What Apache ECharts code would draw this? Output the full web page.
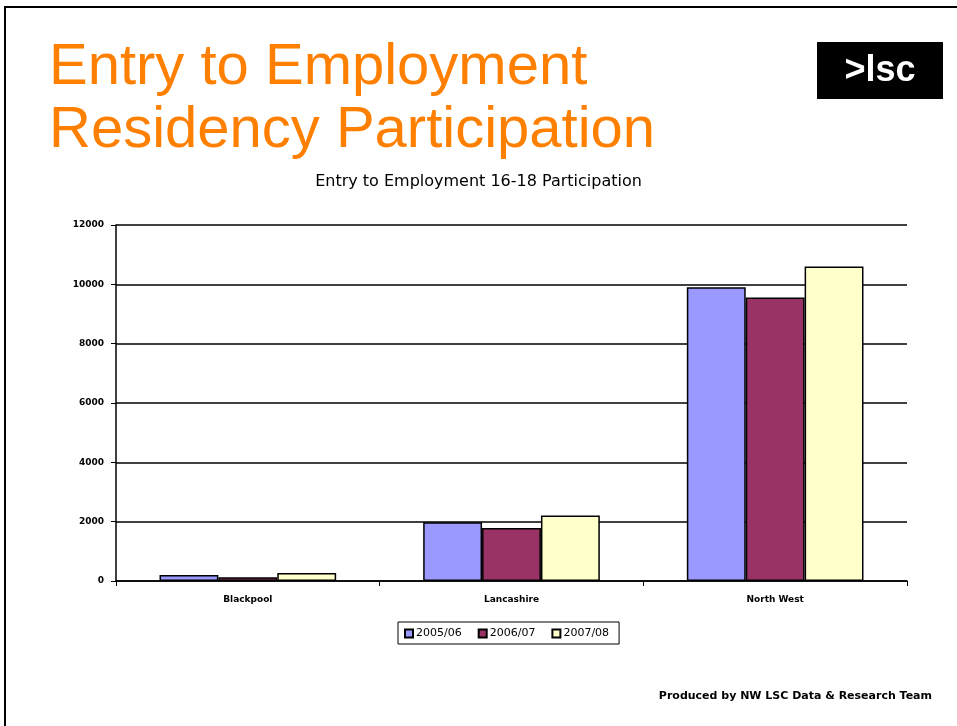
<!DOCTYPE html>
<html><head><meta charset="utf-8">
<script src="https://cdn.jsdelivr.net/npm/echarts@6/dist/echarts.min.js"></script>
<style>html,body{margin:0;padding:0;background:#fff}#c{width:957px;height:726px}</style>
</head><body><div id="c"></div>
<script>
const categories = ['Blackpool', 'Lancashire', 'North West'];
const seriesNames = ['2005/06', '2006/07', '2007/08'];
const values2005 = [200, 1980, 9900];
const values2006 = [130, 1790, 9560];
const values2007 = [270, 2210, 10600];
const seriesColors = ['#9999FF', '#993366', '#FFFFCC'];

const chart = echarts.init(document.getElementById('c'), null, {renderer: 'canvas'});
const allValues = [values2005, values2006, values2007];
chart.setOption({
  animation: false,
  backgroundColor: '#fff',
  title: [
    {text: 'Entry to Employment\nResidency Participation', left: 44, top: 31,
     textStyle: {fontFamily: 'Liberation Sans', fontSize: 58, fontWeight: 'normal', color: '#FF8000', lineHeight: 63}},
    {text: 'Entry to Employment 16-18 Participation', left: 'center', top: 169,
     textStyle: {fontFamily: 'DejaVu Sans', fontSize: 16, fontWeight: 'normal', color: '#000'}},
    {text: 'Produced by NW LSC Data & Research Team', right: 20, top: 686,
     textStyle: {fontFamily: 'DejaVu Sans', fontSize: 11, fontWeight: 'bold', color: '#000'}}
  ],
  graphic: [
    {type: 'rect', shape: {x: 5, y: 7, width: 960, height: 730}, style: {fill: 'none', stroke: '#000', lineWidth: 2}},
    {type: 'rect', shape: {x: 817, y: 42, width: 126, height: 57}, style: {fill: '#000'}},
    {type: 'text', x: 880, y: 71, style: {text: '>lsc', fill: '#fff', font: 'bold 36px "Liberation Sans"', textAlign: 'center', textVerticalAlign: 'middle'}}
  ],
  legend: {
    data: seriesNames, left: 398, top: 622, itemWidth: 8, itemHeight: 8, itemGap: 16,
    padding: [6, 10, 5, 6], borderColor: '#000', borderWidth: 1, icon: 'rect',
    textStyle: {fontFamily: 'DejaVu Sans', fontSize: 11, color: '#000', padding: [0, 0, 0, -2]}
  },
  grid: {left: 116, top: 225, right: 50, bottom: 145, containLabel: false},
  xAxis: {
    type: 'category', data: categories,
    axisLine: {lineStyle: {color: '#000', width: 1.5}},
    axisTick: {show: true, length: 5, lineStyle: {color: '#000'}},
    axisLabel: {fontFamily: 'DejaVu Sans', fontSize: 9, fontWeight: 'bold', color: '#000', margin: 14}
  },
  yAxis: {
    type: 'value', min: 0, max: 12000, interval: 2000,
    axisLine: {show: true, lineStyle: {color: '#000', width: 1.5}},
    axisTick: {show: true, length: 5, inside: false, lineStyle: {color: '#000'}},
    axisLabel: {fontFamily: 'DejaVu Sans', fontSize: 9, fontWeight: 'bold', color: '#000', margin: 12,
                formatter: v => String(v)},
    splitLine: {show: true, lineStyle: {color: '#000', width: 1.5}}
  },
  series: seriesNames.map((n, i) => ({
    name: n, type: 'bar', data: allValues[i], barGap: '0%', barCategoryGap: '33%',
    itemStyle: {color: seriesColors[i], borderColor: '#000', borderWidth: 1.5}
  }))
});
</script></body></html>
